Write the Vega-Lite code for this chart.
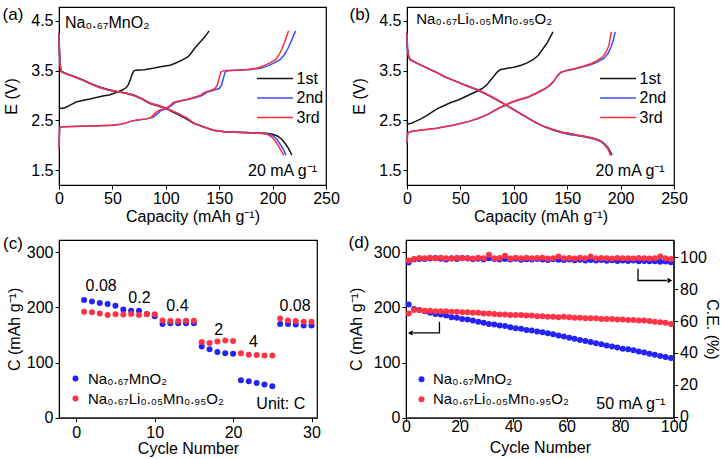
{
"$schema": "https://vega.github.io/schema/vega-lite/v6.json",
"padding": {"left": 1, "top": 5, "right": 0, "bottom": 0},
"config": {
 "font": "Liberation Sans",
 "view": {"stroke": "#000", "strokeWidth": 1.2},
 "axis": {"grid": false, "domainColor": "#000", "tickColor": "#000", "tickSize": 4, "labelColor": "#000", "titleColor": "#000", "labelFontSize": 16, "titleFontSize": 16, "titleFontWeight": "normal", "labelFont": "Liberation Sans", "titleFont": "Liberation Sans", "labelFlush": false, "labelOverlap": false},
 "legend": {"labelFontSize": 16, "labelFont": "Liberation Sans", "labelColor": "#000", "orient": "none", "padding": 0},
 "text": {"font": "Liberation Sans", "fontSize": 16, "color": "#000"}
},
"datasets": {
 "A": [
  {"x":0,"y":2.75,"k":"1st","b":"c"},{"x":3,"y":2.74,"k":"1st","b":"c"},{"x":6,"y":2.76,"k":"1st","b":"c"},{"x":10,"y":2.8,"k":"1st","b":"c"},{"x":16,"y":2.87,"k":"1st","b":"c"},{"x":22,"y":2.9,"k":"1st","b":"c"},{"x":29,"y":2.93,"k":"1st","b":"c"},{"x":35,"y":2.96,"k":"1st","b":"c"},{"x":41,"y":2.99,"k":"1st","b":"c"},{"x":47,"y":3.01,"k":"1st","b":"c"},{"x":51,"y":3.04,"k":"1st","b":"c"},{"x":56,"y":3.08,"k":"1st","b":"c"},{"x":60,"y":3.12,"k":"1st","b":"c"},{"x":63,"y":3.16,"k":"1st","b":"c"},{"x":65,"y":3.22,"k":"1st","b":"c"},{"x":67,"y":3.33,"k":"1st","b":"c"},{"x":68.5,"y":3.43,"k":"1st","b":"c"},{"x":70,"y":3.49,"k":"1st","b":"c"},{"x":72,"y":3.51,"k":"1st","b":"c"},{"x":80,"y":3.52,"k":"1st","b":"c"},{"x":88,"y":3.55,"k":"1st","b":"c"},{"x":95,"y":3.58,"k":"1st","b":"c"},{"x":104,"y":3.61,"k":"1st","b":"c"},{"x":110,"y":3.66,"k":"1st","b":"c"},{"x":116,"y":3.72,"k":"1st","b":"c"},{"x":121,"y":3.78,"k":"1st","b":"c"},{"x":124,"y":3.86,"k":"1st","b":"c"},{"x":127,"y":3.95,"k":"1st","b":"c"},{"x":132,"y":4.07,"k":"1st","b":"c"},{"x":137,"y":4.19,"k":"1st","b":"c"},{"x":140.5,"y":4.3,"k":"1st","b":"c"},
  {"x":0,"y":4.25,"k":"1st","b":"d"},{"x":0.4,"y":3.9,"k":"1st","b":"d"},{"x":1,"y":3.62,"k":"1st","b":"d"},{"x":2,"y":3.49,"k":"1st","b":"d"},{"x":7,"y":3.44,"k":"1st","b":"d"},{"x":15,"y":3.38,"k":"1st","b":"d"},{"x":23,"y":3.31,"k":"1st","b":"d"},{"x":30,"y":3.24,"k":"1st","b":"d"},{"x":38,"y":3.17,"k":"1st","b":"d"},{"x":46,"y":3.12,"k":"1st","b":"d"},{"x":54,"y":3.08,"k":"1st","b":"d"},{"x":62,"y":3.05,"k":"1st","b":"d"},{"x":70,"y":3.01,"k":"1st","b":"d"},{"x":78,"y":2.93,"k":"1st","b":"d"},{"x":85,"y":2.84,"k":"1st","b":"d"},{"x":93,"y":2.79,"k":"1st","b":"d"},{"x":101,"y":2.73,"k":"1st","b":"d"},{"x":107,"y":2.66,"k":"1st","b":"d"},{"x":113,"y":2.6,"k":"1st","b":"d"},{"x":120,"y":2.52,"k":"1st","b":"d"},{"x":126,"y":2.44,"k":"1st","b":"d"},{"x":135,"y":2.37,"k":"1st","b":"d"},{"x":144.5,"y":2.3,"k":"1st","b":"d"},{"x":155,"y":2.27,"k":"1st","b":"d"},{"x":165,"y":2.26,"k":"1st","b":"d"},{"x":180,"y":2.25,"k":"1st","b":"d"},{"x":194.5,"y":2.24,"k":"1st","b":"d"},{"x":200,"y":2.22,"k":"1st","b":"d"},{"x":205,"y":2.18,"k":"1st","b":"d"},{"x":209,"y":2.11,"k":"1st","b":"d"},{"x":212,"y":2.03,"k":"1st","b":"d"},{"x":215,"y":1.93,"k":"1st","b":"d"},{"x":218,"y":1.8,"k":"1st","b":"d"},
  {"x":0,"y":4.25,"k":"2nd","b":"d"},{"x":0.4,"y":3.9,"k":"2nd","b":"d"},{"x":1,"y":3.62,"k":"2nd","b":"d"},{"x":2,"y":3.48,"k":"2nd","b":"d"},{"x":7,"y":3.43,"k":"2nd","b":"d"},{"x":15,"y":3.37,"k":"2nd","b":"d"},{"x":23,"y":3.3,"k":"2nd","b":"d"},{"x":30,"y":3.23,"k":"2nd","b":"d"},{"x":38,"y":3.16,"k":"2nd","b":"d"},{"x":46,"y":3.11,"k":"2nd","b":"d"},{"x":54,"y":3.08,"k":"2nd","b":"d"},{"x":62,"y":3.05,"k":"2nd","b":"d"},{"x":70,"y":3.0,"k":"2nd","b":"d"},{"x":78,"y":2.93,"k":"2nd","b":"d"},{"x":85,"y":2.85,"k":"2nd","b":"d"},{"x":93,"y":2.8,"k":"2nd","b":"d"},{"x":101,"y":2.74,"k":"2nd","b":"d"},{"x":107,"y":2.68,"k":"2nd","b":"d"},{"x":113,"y":2.62,"k":"2nd","b":"d"},{"x":120,"y":2.54,"k":"2nd","b":"d"},{"x":126,"y":2.45,"k":"2nd","b":"d"},{"x":135,"y":2.37,"k":"2nd","b":"d"},{"x":144.5,"y":2.3,"k":"2nd","b":"d"},{"x":155,"y":2.27,"k":"2nd","b":"d"},{"x":165,"y":2.26,"k":"2nd","b":"d"},{"x":180,"y":2.25,"k":"2nd","b":"d"},{"x":190,"y":2.24,"k":"2nd","b":"d"},{"x":197,"y":2.22,"k":"2nd","b":"d"},{"x":201,"y":2.18,"k":"2nd","b":"d"},{"x":204,"y":2.12,"k":"2nd","b":"d"},{"x":207,"y":2.02,"k":"2nd","b":"d"},{"x":210,"y":1.92,"k":"2nd","b":"d"},{"x":212.5,"y":1.8,"k":"2nd","b":"d"},
  {"x":0,"y":4.25,"k":"3rd","b":"d"},{"x":0.4,"y":3.9,"k":"3rd","b":"d"},{"x":1,"y":3.62,"k":"3rd","b":"d"},{"x":2,"y":3.48,"k":"3rd","b":"d"},{"x":7,"y":3.43,"k":"3rd","b":"d"},{"x":15,"y":3.37,"k":"3rd","b":"d"},{"x":23,"y":3.3,"k":"3rd","b":"d"},{"x":30,"y":3.23,"k":"3rd","b":"d"},{"x":38,"y":3.16,"k":"3rd","b":"d"},{"x":46,"y":3.11,"k":"3rd","b":"d"},{"x":54,"y":3.08,"k":"3rd","b":"d"},{"x":62,"y":3.05,"k":"3rd","b":"d"},{"x":70,"y":3.0,"k":"3rd","b":"d"},{"x":78,"y":2.93,"k":"3rd","b":"d"},{"x":85,"y":2.85,"k":"3rd","b":"d"},{"x":93,"y":2.8,"k":"3rd","b":"d"},{"x":101,"y":2.74,"k":"3rd","b":"d"},{"x":107,"y":2.68,"k":"3rd","b":"d"},{"x":113,"y":2.62,"k":"3rd","b":"d"},{"x":120,"y":2.54,"k":"3rd","b":"d"},{"x":126,"y":2.45,"k":"3rd","b":"d"},{"x":135,"y":2.37,"k":"3rd","b":"d"},{"x":144.5,"y":2.3,"k":"3rd","b":"d"},{"x":155,"y":2.27,"k":"3rd","b":"d"},{"x":165,"y":2.26,"k":"3rd","b":"d"},{"x":180,"y":2.25,"k":"3rd","b":"d"},{"x":188,"y":2.24,"k":"3rd","b":"d"},{"x":195,"y":2.22,"k":"3rd","b":"d"},{"x":199,"y":2.17,"k":"3rd","b":"d"},{"x":202,"y":2.1,"k":"3rd","b":"d"},{"x":205.5,"y":1.98,"k":"3rd","b":"d"},{"x":208,"y":1.89,"k":"3rd","b":"d"},{"x":210.5,"y":1.8,"k":"3rd","b":"d"},
  {"x":0,"y":1.95,"k":"2nd","b":"c"},{"x":0.5,"y":2.3,"k":"2nd","b":"c"},{"x":1,"y":2.36,"k":"2nd","b":"c"},{"x":5,"y":2.37,"k":"2nd","b":"c"},{"x":20,"y":2.38,"k":"2nd","b":"c"},{"x":38,"y":2.39,"k":"2nd","b":"c"},{"x":50,"y":2.4,"k":"2nd","b":"c"},{"x":58,"y":2.42,"k":"2nd","b":"c"},{"x":63,"y":2.45,"k":"2nd","b":"c"},{"x":67,"y":2.48,"k":"2nd","b":"c"},{"x":72,"y":2.5,"k":"2nd","b":"c"},{"x":82,"y":2.53,"k":"2nd","b":"c"},{"x":88,"y":2.56,"k":"2nd","b":"c"},{"x":92,"y":2.63,"k":"2nd","b":"c"},{"x":95,"y":2.69,"k":"2nd","b":"c"},{"x":99,"y":2.72,"k":"2nd","b":"c"},{"x":103,"y":2.76,"k":"2nd","b":"c"},{"x":106,"y":2.81,"k":"2nd","b":"c"},{"x":109,"y":2.86,"k":"2nd","b":"c"},{"x":114,"y":2.89,"k":"2nd","b":"c"},{"x":121,"y":2.92,"k":"2nd","b":"c"},{"x":128,"y":2.96,"k":"2nd","b":"c"},{"x":134,"y":3.0,"k":"2nd","b":"c"},{"x":138,"y":3.06,"k":"2nd","b":"c"},{"x":144,"y":3.1,"k":"2nd","b":"c"},{"x":150,"y":3.14,"k":"2nd","b":"c"},{"x":152,"y":3.2,"k":"2nd","b":"c"},{"x":154,"y":3.35,"k":"2nd","b":"c"},{"x":155.5,"y":3.47,"k":"2nd","b":"c"},{"x":158,"y":3.5,"k":"2nd","b":"c"},{"x":166,"y":3.51,"k":"2nd","b":"c"},{"x":178,"y":3.52,"k":"2nd","b":"c"},{"x":189,"y":3.55,"k":"2nd","b":"c"},{"x":196,"y":3.6,"k":"2nd","b":"c"},{"x":202,"y":3.66,"k":"2nd","b":"c"},{"x":207,"y":3.72,"k":"2nd","b":"c"},{"x":211,"y":3.82,"k":"2nd","b":"c"},{"x":214.5,"y":3.95,"k":"2nd","b":"c"},{"x":218,"y":4.12,"k":"2nd","b":"c"},{"x":221.5,"y":4.3,"k":"2nd","b":"c"},
  {"x":0,"y":1.95,"k":"3rd","b":"c"},{"x":0.5,"y":2.3,"k":"3rd","b":"c"},{"x":1,"y":2.36,"k":"3rd","b":"c"},{"x":5,"y":2.37,"k":"3rd","b":"c"},{"x":20,"y":2.38,"k":"3rd","b":"c"},{"x":38,"y":2.39,"k":"3rd","b":"c"},{"x":50,"y":2.4,"k":"3rd","b":"c"},{"x":58,"y":2.42,"k":"3rd","b":"c"},{"x":63,"y":2.45,"k":"3rd","b":"c"},{"x":67,"y":2.48,"k":"3rd","b":"c"},{"x":72,"y":2.5,"k":"3rd","b":"c"},{"x":82,"y":2.53,"k":"3rd","b":"c"},{"x":86,"y":2.56,"k":"3rd","b":"c"},{"x":89,"y":2.62,"k":"3rd","b":"c"},{"x":92,"y":2.68,"k":"3rd","b":"c"},{"x":96,"y":2.72,"k":"3rd","b":"c"},{"x":101,"y":2.75,"k":"3rd","b":"c"},{"x":104,"y":2.8,"k":"3rd","b":"c"},{"x":107,"y":2.86,"k":"3rd","b":"c"},{"x":112,"y":2.89,"k":"3rd","b":"c"},{"x":119.5,"y":2.92,"k":"3rd","b":"c"},{"x":126,"y":2.96,"k":"3rd","b":"c"},{"x":132,"y":3.0,"k":"3rd","b":"c"},{"x":136,"y":3.06,"k":"3rd","b":"c"},{"x":142,"y":3.1,"k":"3rd","b":"c"},{"x":146,"y":3.14,"k":"3rd","b":"c"},{"x":148,"y":3.2,"k":"3rd","b":"c"},{"x":150,"y":3.35,"k":"3rd","b":"c"},{"x":151.5,"y":3.47,"k":"3rd","b":"c"},{"x":154,"y":3.5,"k":"3rd","b":"c"},{"x":163,"y":3.51,"k":"3rd","b":"c"},{"x":175,"y":3.52,"k":"3rd","b":"c"},{"x":185,"y":3.55,"k":"3rd","b":"c"},{"x":192,"y":3.6,"k":"3rd","b":"c"},{"x":198,"y":3.66,"k":"3rd","b":"c"},{"x":203,"y":3.72,"k":"3rd","b":"c"},{"x":206,"y":3.82,"k":"3rd","b":"c"},{"x":209,"y":3.95,"k":"3rd","b":"c"},{"x":212,"y":4.12,"k":"3rd","b":"c"},{"x":215,"y":4.3,"k":"3rd","b":"c"}
 ],
 "B": [
  {"x":0,"y":2.42,"k":"1st","b":"c"},{"x":4,"y":2.44,"k":"1st","b":"c"},{"x":8,"y":2.48,"k":"1st","b":"c"},{"x":13,"y":2.53,"k":"1st","b":"c"},{"x":18,"y":2.59,"k":"1st","b":"c"},{"x":23,"y":2.66,"k":"1st","b":"c"},{"x":29,"y":2.74,"k":"1st","b":"c"},{"x":35,"y":2.8,"k":"1st","b":"c"},{"x":41,"y":2.86,"k":"1st","b":"c"},{"x":48,"y":2.91,"k":"1st","b":"c"},{"x":54,"y":2.97,"k":"1st","b":"c"},{"x":60,"y":3.03,"k":"1st","b":"c"},{"x":66,"y":3.09,"k":"1st","b":"c"},{"x":71,"y":3.15,"k":"1st","b":"c"},{"x":75,"y":3.22,"k":"1st","b":"c"},{"x":78,"y":3.3,"k":"1st","b":"c"},{"x":81,"y":3.38,"k":"1st","b":"c"},{"x":84,"y":3.46,"k":"1st","b":"c"},{"x":87,"y":3.52,"k":"1st","b":"c"},{"x":92,"y":3.54,"k":"1st","b":"c"},{"x":100,"y":3.57,"k":"1st","b":"c"},{"x":107,"y":3.61,"k":"1st","b":"c"},{"x":113,"y":3.66,"k":"1st","b":"c"},{"x":118,"y":3.72,"k":"1st","b":"c"},{"x":123,"y":3.81,"k":"1st","b":"c"},{"x":127,"y":3.93,"k":"1st","b":"c"},{"x":131,"y":4.05,"k":"1st","b":"c"},{"x":134,"y":4.17,"k":"1st","b":"c"},{"x":136.7,"y":4.28,"k":"1st","b":"c"},
  {"x":0,"y":4.25,"k":"1st","b":"d"},{"x":0.4,"y":3.95,"k":"1st","b":"d"},{"x":1.5,"y":3.78,"k":"1st","b":"d"},{"x":3,"y":3.72,"k":"1st","b":"d"},{"x":10,"y":3.64,"k":"1st","b":"d"},{"x":17,"y":3.57,"k":"1st","b":"d"},{"x":23,"y":3.51,"k":"1st","b":"d"},{"x":29,"y":3.45,"k":"1st","b":"d"},{"x":35,"y":3.38,"k":"1st","b":"d"},{"x":43,"y":3.31,"k":"1st","b":"d"},{"x":51,"y":3.24,"k":"1st","b":"d"},{"x":59,"y":3.17,"k":"1st","b":"d"},{"x":66.5,"y":3.11,"k":"1st","b":"d"},{"x":74,"y":3.03,"k":"1st","b":"d"},{"x":82,"y":2.94,"k":"1st","b":"d"},{"x":90,"y":2.84,"k":"1st","b":"d"},{"x":98,"y":2.74,"k":"1st","b":"d"},{"x":105,"y":2.65,"k":"1st","b":"d"},{"x":113,"y":2.55,"k":"1st","b":"d"},{"x":121,"y":2.45,"k":"1st","b":"d"},{"x":129,"y":2.37,"k":"1st","b":"d"},{"x":137,"y":2.31,"k":"1st","b":"d"},{"x":145,"y":2.26,"k":"1st","b":"d"},{"x":153,"y":2.23,"k":"1st","b":"d"},{"x":160,"y":2.2,"k":"1st","b":"d"},{"x":168,"y":2.17,"k":"1st","b":"d"},{"x":176,"y":2.13,"k":"1st","b":"d"},{"x":181,"y":2.09,"k":"1st","b":"d"},{"x":185,"y":2.03,"k":"1st","b":"d"},{"x":188,"y":1.96,"k":"1st","b":"d"},{"x":190,"y":1.88,"k":"1st","b":"d"},{"x":192,"y":1.8,"k":"1st","b":"d"},
  {"x":0,"y":4.25,"k":"2nd","b":"d"},{"x":0.4,"y":3.95,"k":"2nd","b":"d"},{"x":1.5,"y":3.78,"k":"2nd","b":"d"},{"x":3,"y":3.72,"k":"2nd","b":"d"},{"x":10,"y":3.64,"k":"2nd","b":"d"},{"x":17,"y":3.57,"k":"2nd","b":"d"},{"x":23,"y":3.51,"k":"2nd","b":"d"},{"x":29,"y":3.45,"k":"2nd","b":"d"},{"x":35,"y":3.38,"k":"2nd","b":"d"},{"x":43,"y":3.31,"k":"2nd","b":"d"},{"x":51,"y":3.24,"k":"2nd","b":"d"},{"x":59,"y":3.17,"k":"2nd","b":"d"},{"x":66.5,"y":3.11,"k":"2nd","b":"d"},{"x":74,"y":3.03,"k":"2nd","b":"d"},{"x":82,"y":2.94,"k":"2nd","b":"d"},{"x":90,"y":2.84,"k":"2nd","b":"d"},{"x":98,"y":2.74,"k":"2nd","b":"d"},{"x":105,"y":2.65,"k":"2nd","b":"d"},{"x":113,"y":2.55,"k":"2nd","b":"d"},{"x":121,"y":2.45,"k":"2nd","b":"d"},{"x":129,"y":2.37,"k":"2nd","b":"d"},{"x":137,"y":2.3,"k":"2nd","b":"d"},{"x":145,"y":2.25,"k":"2nd","b":"d"},{"x":153,"y":2.21,"k":"2nd","b":"d"},{"x":160,"y":2.19,"k":"2nd","b":"d"},{"x":168,"y":2.16,"k":"2nd","b":"d"},{"x":176,"y":2.12,"k":"2nd","b":"d"},{"x":181,"y":2.08,"k":"2nd","b":"d"},{"x":185,"y":2.01,"k":"2nd","b":"d"},{"x":188,"y":1.93,"k":"2nd","b":"d"},{"x":190,"y":1.85,"k":"2nd","b":"d"},{"x":191,"y":1.8,"k":"2nd","b":"d"},
  {"x":0,"y":4.25,"k":"3rd","b":"d"},{"x":0.4,"y":3.95,"k":"3rd","b":"d"},{"x":1.5,"y":3.78,"k":"3rd","b":"d"},{"x":3,"y":3.72,"k":"3rd","b":"d"},{"x":10,"y":3.64,"k":"3rd","b":"d"},{"x":17,"y":3.57,"k":"3rd","b":"d"},{"x":23,"y":3.51,"k":"3rd","b":"d"},{"x":29,"y":3.45,"k":"3rd","b":"d"},{"x":35,"y":3.38,"k":"3rd","b":"d"},{"x":43,"y":3.31,"k":"3rd","b":"d"},{"x":51,"y":3.24,"k":"3rd","b":"d"},{"x":59,"y":3.17,"k":"3rd","b":"d"},{"x":66.5,"y":3.11,"k":"3rd","b":"d"},{"x":74,"y":3.03,"k":"3rd","b":"d"},{"x":82,"y":2.94,"k":"3rd","b":"d"},{"x":90,"y":2.84,"k":"3rd","b":"d"},{"x":98,"y":2.74,"k":"3rd","b":"d"},{"x":105,"y":2.65,"k":"3rd","b":"d"},{"x":113,"y":2.55,"k":"3rd","b":"d"},{"x":121,"y":2.45,"k":"3rd","b":"d"},{"x":129,"y":2.37,"k":"3rd","b":"d"},{"x":137,"y":2.31,"k":"3rd","b":"d"},{"x":145,"y":2.26,"k":"3rd","b":"d"},{"x":153,"y":2.23,"k":"3rd","b":"d"},{"x":160,"y":2.2,"k":"3rd","b":"d"},{"x":168,"y":2.17,"k":"3rd","b":"d"},{"x":176,"y":2.13,"k":"3rd","b":"d"},{"x":181,"y":2.09,"k":"3rd","b":"d"},{"x":185,"y":2.02,"k":"3rd","b":"d"},{"x":188,"y":1.95,"k":"3rd","b":"d"},{"x":189.5,"y":1.87,"k":"3rd","b":"d"},{"x":190.5,"y":1.8,"k":"3rd","b":"d"},
  {"x":0,"y":2.05,"k":"2nd","b":"c"},{"x":0.5,"y":2.22,"k":"2nd","b":"c"},{"x":1.5,"y":2.26,"k":"2nd","b":"c"},{"x":5,"y":2.28,"k":"2nd","b":"c"},{"x":12,"y":2.3,"k":"2nd","b":"c"},{"x":20,"y":2.32,"k":"2nd","b":"c"},{"x":28,"y":2.34,"k":"2nd","b":"c"},{"x":35,"y":2.37,"k":"2nd","b":"c"},{"x":43,"y":2.4,"k":"2nd","b":"c"},{"x":51,"y":2.44,"k":"2nd","b":"c"},{"x":58,"y":2.48,"k":"2nd","b":"c"},{"x":66,"y":2.53,"k":"2nd","b":"c"},{"x":72,"y":2.58,"k":"2nd","b":"c"},{"x":76,"y":2.62,"k":"2nd","b":"c"},{"x":81,"y":2.68,"k":"2nd","b":"c"},{"x":86,"y":2.74,"k":"2nd","b":"c"},{"x":92,"y":2.8,"k":"2nd","b":"c"},{"x":98,"y":2.86,"k":"2nd","b":"c"},{"x":105,"y":2.91,"k":"2nd","b":"c"},{"x":113,"y":2.96,"k":"2nd","b":"c"},{"x":121,"y":3.04,"k":"2nd","b":"c"},{"x":129,"y":3.13,"k":"2nd","b":"c"},{"x":133,"y":3.19,"k":"2nd","b":"c"},{"x":137,"y":3.27,"k":"2nd","b":"c"},{"x":141,"y":3.4,"k":"2nd","b":"c"},{"x":144,"y":3.46,"k":"2nd","b":"c"},{"x":148,"y":3.49,"k":"2nd","b":"c"},{"x":152,"y":3.51,"k":"2nd","b":"c"},{"x":158,"y":3.54,"k":"2nd","b":"c"},{"x":165,"y":3.58,"k":"2nd","b":"c"},{"x":172,"y":3.62,"k":"2nd","b":"c"},{"x":178,"y":3.67,"k":"2nd","b":"c"},{"x":184,"y":3.74,"k":"2nd","b":"c"},{"x":188,"y":3.84,"k":"2nd","b":"c"},{"x":191,"y":3.97,"k":"2nd","b":"c"},{"x":193,"y":4.1,"k":"2nd","b":"c"},{"x":195,"y":4.28,"k":"2nd","b":"c"},
  {"x":0,"y":2.05,"k":"3rd","b":"c"},{"x":0.5,"y":2.22,"k":"3rd","b":"c"},{"x":1.5,"y":2.26,"k":"3rd","b":"c"},{"x":5,"y":2.28,"k":"3rd","b":"c"},{"x":12,"y":2.3,"k":"3rd","b":"c"},{"x":20,"y":2.32,"k":"3rd","b":"c"},{"x":28,"y":2.34,"k":"3rd","b":"c"},{"x":35,"y":2.37,"k":"3rd","b":"c"},{"x":43,"y":2.4,"k":"3rd","b":"c"},{"x":51,"y":2.44,"k":"3rd","b":"c"},{"x":58,"y":2.48,"k":"3rd","b":"c"},{"x":66,"y":2.54,"k":"3rd","b":"c"},{"x":72,"y":2.59,"k":"3rd","b":"c"},{"x":76,"y":2.63,"k":"3rd","b":"c"},{"x":81,"y":2.69,"k":"3rd","b":"c"},{"x":86,"y":2.75,"k":"3rd","b":"c"},{"x":92,"y":2.81,"k":"3rd","b":"c"},{"x":98,"y":2.87,"k":"3rd","b":"c"},{"x":105,"y":2.92,"k":"3rd","b":"c"},{"x":113,"y":2.97,"k":"3rd","b":"c"},{"x":121,"y":3.05,"k":"3rd","b":"c"},{"x":129,"y":3.14,"k":"3rd","b":"c"},{"x":133,"y":3.2,"k":"3rd","b":"c"},{"x":137,"y":3.28,"k":"3rd","b":"c"},{"x":141,"y":3.41,"k":"3rd","b":"c"},{"x":144,"y":3.47,"k":"3rd","b":"c"},{"x":148,"y":3.5,"k":"3rd","b":"c"},{"x":152,"y":3.52,"k":"3rd","b":"c"},{"x":158,"y":3.55,"k":"3rd","b":"c"},{"x":165,"y":3.59,"k":"3rd","b":"c"},{"x":172,"y":3.64,"k":"3rd","b":"c"},{"x":178,"y":3.7,"k":"3rd","b":"c"},{"x":183,"y":3.77,"k":"3rd","b":"c"},{"x":186,"y":3.86,"k":"3rd","b":"c"},{"x":189,"y":4.0,"k":"3rd","b":"c"},{"x":191.3,"y":4.28,"k":"3rd","b":"c"}
 ],
 "C": [
  {"n":1,"c":213.5,"s":"Na₀.₆₇MnO₂"},{"n":2,"c":210.5,"s":"Na₀.₆₇MnO₂"},{"n":3,"c":208,"s":"Na₀.₆₇MnO₂"},{"n":4,"c":206,"s":"Na₀.₆₇MnO₂"},{"n":5,"c":203,"s":"Na₀.₆₇MnO₂"},{"n":6,"c":196,"s":"Na₀.₆₇MnO₂"},{"n":7,"c":194,"s":"Na₀.₆₇MnO₂"},{"n":8,"c":194,"s":"Na₀.₆₇MnO₂"},{"n":9,"c":188,"s":"Na₀.₆₇MnO₂"},{"n":10,"c":184,"s":"Na₀.₆₇MnO₂"},{"n":11,"c":170,"s":"Na₀.₆₇MnO₂"},{"n":12,"c":171,"s":"Na₀.₆₇MnO₂"},{"n":13,"c":171,"s":"Na₀.₆₇MnO₂"},{"n":14,"c":171,"s":"Na₀.₆₇MnO₂"},{"n":15,"c":171,"s":"Na₀.₆₇MnO₂"},{"n":16,"c":129,"s":"Na₀.₆₇MnO₂"},{"n":17,"c":124,"s":"Na₀.₆₇MnO₂"},{"n":18,"c":119,"s":"Na₀.₆₇MnO₂"},{"n":19,"c":117,"s":"Na₀.₆₇MnO₂"},{"n":20,"c":116,"s":"Na₀.₆₇MnO₂"},{"n":21,"c":68,"s":"Na₀.₆₇MnO₂"},{"n":22,"c":66,"s":"Na₀.₆₇MnO₂"},{"n":23,"c":63,"s":"Na₀.₆₇MnO₂"},{"n":24,"c":60,"s":"Na₀.₆₇MnO₂"},{"n":25,"c":57,"s":"Na₀.₆₇MnO₂"},{"n":26,"c":170,"s":"Na₀.₆₇MnO₂"},{"n":27,"c":170,"s":"Na₀.₆₇MnO₂"},{"n":28,"c":169,"s":"Na₀.₆₇MnO₂"},{"n":29,"c":167,"s":"Na₀.₆₇MnO₂"},{"n":30,"c":167,"s":"Na₀.₆₇MnO₂"},
  {"n":1,"c":192,"s":"Na₀.₆₇Li₀.₀₅Mn₀.₉₅O₂"},{"n":2,"c":191,"s":"Na₀.₆₇Li₀.₀₅Mn₀.₉₅O₂"},{"n":3,"c":189,"s":"Na₀.₆₇Li₀.₀₅Mn₀.₉₅O₂"},{"n":4,"c":186,"s":"Na₀.₆₇Li₀.₀₅Mn₀.₉₅O₂"},{"n":5,"c":187.5,"s":"Na₀.₆₇Li₀.₀₅Mn₀.₉₅O₂"},{"n":6,"c":187,"s":"Na₀.₆₇Li₀.₀₅Mn₀.₉₅O₂"},{"n":7,"c":188,"s":"Na₀.₆₇Li₀.₀₅Mn₀.₉₅O₂"},{"n":8,"c":186,"s":"Na₀.₆₇Li₀.₀₅Mn₀.₉₅O₂"},{"n":9,"c":187.5,"s":"Na₀.₆₇Li₀.₀₅Mn₀.₉₅O₂"},{"n":10,"c":187.5,"s":"Na₀.₆₇Li₀.₀₅Mn₀.₉₅O₂"},{"n":11,"c":176,"s":"Na₀.₆₇Li₀.₀₅Mn₀.₉₅O₂"},{"n":12,"c":175,"s":"Na₀.₆₇Li₀.₀₅Mn₀.₉₅O₂"},{"n":13,"c":175,"s":"Na₀.₆₇Li₀.₀₅Mn₀.₉₅O₂"},{"n":14,"c":175.5,"s":"Na₀.₆₇Li₀.₀₅Mn₀.₉₅O₂"},{"n":15,"c":175.5,"s":"Na₀.₆₇Li₀.₀₅Mn₀.₉₅O₂"},{"n":16,"c":137,"s":"Na₀.₆₇Li₀.₀₅Mn₀.₉₅O₂"},{"n":17,"c":135.5,"s":"Na₀.₆₇Li₀.₀₅Mn₀.₉₅O₂"},{"n":18,"c":138,"s":"Na₀.₆₇Li₀.₀₅Mn₀.₉₅O₂"},{"n":19,"c":139.7,"s":"Na₀.₆₇Li₀.₀₅Mn₀.₉₅O₂"},{"n":20,"c":139,"s":"Na₀.₆₇Li₀.₀₅Mn₀.₉₅O₂"},{"n":21,"c":117,"s":"Na₀.₆₇Li₀.₀₅Mn₀.₉₅O₂"},{"n":22,"c":114,"s":"Na₀.₆₇Li₀.₀₅Mn₀.₉₅O₂"},{"n":23,"c":113.7,"s":"Na₀.₆₇Li₀.₀₅Mn₀.₉₅O₂"},{"n":24,"c":112.5,"s":"Na₀.₆₇Li₀.₀₅Mn₀.₉₅O₂"},{"n":25,"c":112.5,"s":"Na₀.₆₇Li₀.₀₅Mn₀.₉₅O₂"},{"n":26,"c":179.6,"s":"Na₀.₆₇Li₀.₀₅Mn₀.₉₅O₂"},{"n":27,"c":176,"s":"Na₀.₆₇Li₀.₀₅Mn₀.₉₅O₂"},{"n":28,"c":175,"s":"Na₀.₆₇Li₀.₀₅Mn₀.₉₅O₂"},{"n":29,"c":174,"s":"Na₀.₆₇Li₀.₀₅Mn₀.₉₅O₂"},{"n":30,"c":174,"s":"Na₀.₆₇Li₀.₀₅Mn₀.₉₅O₂"}
 ],
 "D": [
  {"n":1,"c":205,"ce":96.8,"s":"Na₀.₆₇MnO₂"},{"n":3,"c":197,"ce":98.6,"s":"Na₀.₆₇MnO₂"},{"n":5,"c":195,"ce":98.9,"s":"Na₀.₆₇MnO₂"},{"n":7,"c":193,"ce":99.0,"s":"Na₀.₆₇MnO₂"},{"n":9,"c":190,"ce":99.3,"s":"Na₀.₆₇MnO₂"},{"n":11,"c":188,"ce":99.6,"s":"Na₀.₆₇MnO₂"},{"n":13,"c":187,"ce":99.2,"s":"Na₀.₆₇MnO₂"},{"n":15,"c":185,"ce":98.6,"s":"Na₀.₆₇MnO₂"},{"n":17,"c":182,"ce":99.5,"s":"Na₀.₆₇MnO₂"},{"n":19,"c":181,"ce":98.9,"s":"Na₀.₆₇MnO₂"},{"n":21,"c":179,"ce":99.6,"s":"Na₀.₆₇MnO₂"},{"n":23,"c":178,"ce":99.3,"s":"Na₀.₆₇MnO₂"},{"n":25,"c":176,"ce":98.8,"s":"Na₀.₆₇MnO₂"},{"n":27,"c":174,"ce":99.1,"s":"Na₀.₆₇MnO₂"},{"n":29,"c":172,"ce":98.7,"s":"Na₀.₆₇MnO₂"},{"n":31,"c":170,"ce":99.5,"s":"Na₀.₆₇MnO₂"},{"n":33,"c":169,"ce":98.9,"s":"Na₀.₆₇MnO₂"},{"n":35,"c":167,"ce":98.6,"s":"Na₀.₆₇MnO₂"},{"n":37,"c":166,"ce":99.0,"s":"Na₀.₆₇MnO₂"},{"n":39,"c":164,"ce":98.7,"s":"Na₀.₆₇MnO₂"},{"n":41,"c":162,"ce":99.2,"s":"Na₀.₆₇MnO₂"},{"n":43,"c":161,"ce":98.5,"s":"Na₀.₆₇MnO₂"},{"n":45,"c":159,"ce":98.8,"s":"Na₀.₆₇MnO₂"},{"n":47,"c":158,"ce":98.6,"s":"Na₀.₆₇MnO₂"},{"n":49,"c":156,"ce":98.9,"s":"Na₀.₆₇MnO₂"},{"n":51,"c":155,"ce":98.7,"s":"Na₀.₆₇MnO₂"},{"n":53,"c":153,"ce":98.4,"s":"Na₀.₆₇MnO₂"},{"n":55,"c":151,"ce":98.8,"s":"Na₀.₆₇MnO₂"},{"n":57,"c":149,"ce":98.5,"s":"Na₀.₆₇MnO₂"},{"n":59,"c":147,"ce":98.3,"s":"Na₀.₆₇MnO₂"},{"n":61,"c":145,"ce":98.6,"s":"Na₀.₆₇MnO₂"},{"n":63,"c":143,"ce":98.2,"s":"Na₀.₆₇MnO₂"},{"n":65,"c":141,"ce":98.5,"s":"Na₀.₆₇MnO₂"},{"n":67,"c":139,"ce":98.1,"s":"Na₀.₆₇MnO₂"},{"n":69,"c":137,"ce":98.4,"s":"Na₀.₆₇MnO₂"},{"n":71,"c":135,"ce":98.0,"s":"Na₀.₆₇MnO₂"},{"n":73,"c":133,"ce":98.3,"s":"Na₀.₆₇MnO₂"},{"n":75,"c":131,"ce":97.9,"s":"Na₀.₆₇MnO₂"},{"n":77,"c":129,"ce":98.2,"s":"Na₀.₆₇MnO₂"},{"n":79,"c":127,"ce":97.8,"s":"Na₀.₆₇MnO₂"},{"n":81,"c":125,"ce":98.1,"s":"Na₀.₆₇MnO₂"},{"n":83,"c":124,"ce":97.7,"s":"Na₀.₆₇MnO₂"},{"n":85,"c":122,"ce":98.0,"s":"Na₀.₆₇MnO₂"},{"n":87,"c":120,"ce":97.6,"s":"Na₀.₆₇MnO₂"},{"n":89,"c":118,"ce":97.8,"s":"Na₀.₆₇MnO₂"},{"n":91,"c":116,"ce":97.5,"s":"Na₀.₆₇MnO₂"},{"n":93,"c":114,"ce":97.6,"s":"Na₀.₆₇MnO₂"},{"n":95,"c":112,"ce":97.3,"s":"Na₀.₆₇MnO₂"},{"n":97,"c":110,"ce":97.4,"s":"Na₀.₆₇MnO₂"},{"n":99,"c":108,"ce":97.0,"s":"Na₀.₆₇MnO₂"},
  {"n":1,"c":189,"ce":98.0,"s":"Na₀.₆₇Li₀.₀₅Mn₀.₉₅O₂"},{"n":3,"c":195,"ce":99.0,"s":"Na₀.₆₇Li₀.₀₅Mn₀.₉₅O₂"},{"n":5,"c":195,"ce":99.6,"s":"Na₀.₆₇Li₀.₀₅Mn₀.₉₅O₂"},{"n":7,"c":194,"ce":99.4,"s":"Na₀.₆₇Li₀.₀₅Mn₀.₉₅O₂"},{"n":9,"c":194,"ce":99.8,"s":"Na₀.₆₇Li₀.₀₅Mn₀.₉₅O₂"},{"n":11,"c":193,"ce":99.3,"s":"Na₀.₆₇Li₀.₀₅Mn₀.₉₅O₂"},{"n":13,"c":193,"ce":99.7,"s":"Na₀.₆₇Li₀.₀₅Mn₀.₉₅O₂"},{"n":15,"c":193,"ce":99.5,"s":"Na₀.₆₇Li₀.₀₅Mn₀.₉₅O₂"},{"n":17,"c":192,"ce":99.2,"s":"Na₀.₆₇Li₀.₀₅Mn₀.₉₅O₂"},{"n":19,"c":192,"ce":99.8,"s":"Na₀.₆₇Li₀.₀₅Mn₀.₉₅O₂"},{"n":21,"c":191,"ce":99.4,"s":"Na₀.₆₇Li₀.₀₅Mn₀.₉₅O₂"},{"n":23,"c":191,"ce":99.6,"s":"Na₀.₆₇Li₀.₀₅Mn₀.₉₅O₂"},{"n":25,"c":190,"ce":99.3,"s":"Na₀.₆₇Li₀.₀₅Mn₀.₉₅O₂"},{"n":27,"c":190,"ce":99.7,"s":"Na₀.₆₇Li₀.₀₅Mn₀.₉₅O₂"},{"n":29,"c":189,"ce":99.5,"s":"Na₀.₆₇Li₀.₀₅Mn₀.₉₅O₂"},{"n":31,"c":189,"ce":101.7,"s":"Na₀.₆₇Li₀.₀₅Mn₀.₉₅O₂"},{"n":33,"c":188,"ce":99.4,"s":"Na₀.₆₇Li₀.₀₅Mn₀.₉₅O₂"},{"n":35,"c":187,"ce":99.6,"s":"Na₀.₆₇Li₀.₀₅Mn₀.₉₅O₂"},{"n":37,"c":187,"ce":101.0,"s":"Na₀.₆₇Li₀.₀₅Mn₀.₉₅O₂"},{"n":39,"c":186,"ce":99.3,"s":"Na₀.₆₇Li₀.₀₅Mn₀.₉₅O₂"},{"n":41,"c":186,"ce":99.8,"s":"Na₀.₆₇Li₀.₀₅Mn₀.₉₅O₂"},{"n":43,"c":186,"ce":99.5,"s":"Na₀.₆₇Li₀.₀₅Mn₀.₉₅O₂"},{"n":45,"c":185,"ce":99.7,"s":"Na₀.₆₇Li₀.₀₅Mn₀.₉₅O₂"},{"n":47,"c":185,"ce":99.4,"s":"Na₀.₆₇Li₀.₀₅Mn₀.₉₅O₂"},{"n":49,"c":184,"ce":99.6,"s":"Na₀.₆₇Li₀.₀₅Mn₀.₉₅O₂"},{"n":51,"c":184,"ce":99.8,"s":"Na₀.₆₇Li₀.₀₅Mn₀.₉₅O₂"},{"n":53,"c":183,"ce":99.3,"s":"Na₀.₆₇Li₀.₀₅Mn₀.₉₅O₂"},{"n":55,"c":183,"ce":99.5,"s":"Na₀.₆₇Li₀.₀₅Mn₀.₉₅O₂"},{"n":57,"c":182,"ce":100.6,"s":"Na₀.₆₇Li₀.₀₅Mn₀.₉₅O₂"},{"n":59,"c":183,"ce":99.4,"s":"Na₀.₆₇Li₀.₀₅Mn₀.₉₅O₂"},{"n":61,"c":182,"ce":99.6,"s":"Na₀.₆₇Li₀.₀₅Mn₀.₉₅O₂"},{"n":63,"c":181,"ce":99.3,"s":"Na₀.₆₇Li₀.₀₅Mn₀.₉₅O₂"},{"n":65,"c":181,"ce":99.7,"s":"Na₀.₆₇Li₀.₀₅Mn₀.₉₅O₂"},{"n":67,"c":180,"ce":99.5,"s":"Na₀.₆₇Li₀.₀₅Mn₀.₉₅O₂"},{"n":69,"c":180,"ce":100.6,"s":"Na₀.₆₇Li₀.₀₅Mn₀.₉₅O₂"},{"n":71,"c":180,"ce":99.4,"s":"Na₀.₆₇Li₀.₀₅Mn₀.₉₅O₂"},{"n":73,"c":179,"ce":99.6,"s":"Na₀.₆₇Li₀.₀₅Mn₀.₉₅O₂"},{"n":75,"c":179,"ce":99.5,"s":"Na₀.₆₇Li₀.₀₅Mn₀.₉₅O₂"},{"n":77,"c":179,"ce":99.3,"s":"Na₀.₆₇Li₀.₀₅Mn₀.₉₅O₂"},{"n":79,"c":178,"ce":99.6,"s":"Na₀.₆₇Li₀.₀₅Mn₀.₉₅O₂"},{"n":81,"c":178,"ce":99.4,"s":"Na₀.₆₇Li₀.₀₅Mn₀.₉₅O₂"},{"n":83,"c":177,"ce":99.5,"s":"Na₀.₆₇Li₀.₀₅Mn₀.₉₅O₂"},{"n":85,"c":177,"ce":99.3,"s":"Na₀.₆₇Li₀.₀₅Mn₀.₉₅O₂"},{"n":87,"c":176,"ce":99.6,"s":"Na₀.₆₇Li₀.₀₅Mn₀.₉₅O₂"},{"n":89,"c":176,"ce":99.4,"s":"Na₀.₆₇Li₀.₀₅Mn₀.₉₅O₂"},{"n":91,"c":175,"ce":99.3,"s":"Na₀.₆₇Li₀.₀₅Mn₀.₉₅O₂"},{"n":93,"c":174,"ce":99.5,"s":"Na₀.₆₇Li₀.₀₅Mn₀.₉₅O₂"},{"n":95,"c":173,"ce":100.6,"s":"Na₀.₆₇Li₀.₀₅Mn₀.₉₅O₂"},{"n":97,"c":172,"ce":99.4,"s":"Na₀.₆₇Li₀.₀₅Mn₀.₉₅O₂"},{"n":99,"c":170,"ce":99.0,"s":"Na₀.₆₇Li₀.₀₅Mn₀.₉₅O₂"}
 ],
 "ARR": [
  {"n":12.5,"c":174,"g":"L","i":0},{"n":12.5,"c":153.6,"g":"L","i":1},{"n":2.5,"c":153.6,"g":"L","i":2},
  {"n":86.7,"c":270,"g":"R","i":0},{"n":86.7,"c":248.6,"g":"R","i":1},{"n":97.5,"c":248.6,"g":"R","i":2}
 ]
},
"vconcat": [
 {"hconcat": [
  {"width": 267, "height": 178,
   "encoding": {
    "x": {"field": "x", "type": "quantitative", "scale": {"domain": [0, 250], "nice": false, "zero": false}, "axis": {"values": [0, 50, 100, 150, 200, 250], "title": "Capacity (mAh g⁻¹)", "labelPadding": 1, "titlePadding": 2}},
    "y": {"field": "y", "type": "quantitative", "scale": {"domain": [1.2, 4.78], "nice": false, "zero": false}, "axis": {"values": [1.5, 2.5, 3.5, 4.5], "format": ".1f", "title": "E (V)", "labelPadding": 2, "titlePadding": 11}}
   },
   "layer": [
    {"data": {"name": "A"}, "mark": {"type": "line", "strokeWidth": 1.5},
     "encoding": {"color": {"field": "k", "type": "nominal", "scale": {"domain": ["1st", "2nd", "3rd"], "range": ["#161616", "#3b4cff", "#ff2d3d"]}, "legend": {"title": null, "legendX": 208, "legendY": 63.5, "symbolType": "M-3,0L3,0", "symbolSize": 144, "symbolStrokeWidth": 1.5, "labelOffset": 13.5, "rowPadding": 3.5}},
      "detail": {"field": "b", "type": "nominal"}}},
    {"data": {"values": [{"x": -33.4, "y": 4.51, "t": "(a)"}]}, "mark": {"type": "text", "align": "right", "baseline": "alphabetic", "fontSize": 17}, "encoding": {"text": {"field": "t"}}},
    {"data": {"values": [{"x": 5.6, "y": 4.36, "t": "Na₀.₆₇MnO₂"}]}, "mark": {"type": "text", "align": "left", "baseline": "alphabetic", "fontSize": 16}, "encoding": {"text": {"field": "t"}}},
    {"data": {"values": [{"x": 241.6, "y": 1.39, "t": "20 mA g⁻¹"}]}, "mark": {"type": "text", "align": "right", "baseline": "alphabetic", "fontSize": 16}, "encoding": {"text": {"field": "t"}}}
   ]
  },
  {"width": 267, "height": 178,
   "encoding": {
    "x": {"field": "x", "type": "quantitative", "scale": {"domain": [0, 250], "nice": false, "zero": false}, "axis": {"values": [0, 50, 100, 150, 200, 250], "title": "Capacity (mAh g⁻¹)", "labelPadding": 1, "titlePadding": 2}},
    "y": {"field": "y", "type": "quantitative", "scale": {"domain": [1.2, 4.78], "nice": false, "zero": false}, "axis": {"values": [1.5, 2.5, 3.5, 4.5], "format": ".1f", "title": "E (V)", "labelPadding": 2, "titlePadding": 11}}
   },
   "layer": [
    {"data": {"name": "B"}, "mark": {"type": "line", "strokeWidth": 1.5},
     "encoding": {"color": {"field": "k", "type": "nominal", "scale": {"domain": ["1st", "2nd", "3rd"], "range": ["#161616", "#3b4cff", "#ff2d3d"]}, "legend": {"title": null, "legendX": 203, "legendY": 63.5, "symbolType": "M-3,0L3,0", "symbolSize": 144, "symbolStrokeWidth": 1.5, "labelOffset": 13.5, "rowPadding": 3.5}},
      "detail": {"field": "b", "type": "nominal"}}},
    {"data": {"values": [{"x": -34.4, "y": 4.51, "t": "(b)"}]}, "mark": {"type": "text", "align": "right", "baseline": "alphabetic", "fontSize": 17}, "encoding": {"text": {"field": "t"}}},
    {"data": {"values": [{"x": 8.7, "y": 4.43, "t": "Na₀.₆₇Li₀.₀₅Mn₀.₉₅O₂"}]}, "mark": {"type": "text", "align": "left", "baseline": "alphabetic", "fontSize": 15}, "encoding": {"text": {"field": "t"}}},
    {"data": {"values": [{"x": 241.2, "y": 1.39, "t": "20 mA g⁻¹"}]}, "mark": {"type": "text", "align": "right", "baseline": "alphabetic", "fontSize": 16}, "encoding": {"text": {"field": "t"}}}
   ]
  }
 ], "spacing": 8, "resolve": {"scale": {"color": "independent"}, "legend": {"color": "independent"}}},
 {"hconcat": [
  {"width": 258, "height": 177.7,
   "encoding": {
    "x": {"field": "n", "type": "quantitative", "scale": {"domain": [-2.2, 30.7], "nice": false, "zero": false}, "axis": {"values": [0, 10, 20, 30], "title": "Cycle Number", "labelPadding": 3, "titlePadding": 0}},
    "y": {"field": "c", "type": "quantitative", "scale": {"domain": [0, 322], "nice": false}, "axis": {"values": [0, 100, 200, 300], "title": "C (mAh g⁻¹)", "labelPadding": 2, "titlePadding": 4}}
   },
   "layer": [
    {"data": {"name": "C"}, "mark": {"type": "point", "filled": true, "size": 36, "opacity": 1},
     "encoding": {"color": {"field": "s", "type": "nominal", "scale": {"domain": ["Na₀.₆₇MnO₂", "Na₀.₆₇Li₀.₀₅Mn₀.₉₅O₂"], "range": ["#2323f5", "#ff3344"]}, "legend": {"title": null, "legendX": 9, "legendY": 131, "symbolType": "circle", "symbolSize": 36, "labelOffset": 5, "rowPadding": 4, "labelFontSize": 15}}}},
    {"data": {"values": [{"n": -6.8, "c": 306, "t": "(c)"}]}, "mark": {"type": "text", "align": "right", "baseline": "alphabetic", "fontSize": 17}, "encoding": {"text": {"field": "t"}}},
    {"data": {"values": [{"n": 3.17, "c": 238.9, "t": "0.08"}, {"n": 8.06, "c": 217.4, "t": "0.2"}, {"n": 12.9, "c": 202.6, "t": "0.4"}, {"n": 18.15, "c": 158.2, "t": "2"}, {"n": 22.6, "c": 137, "t": "4"}, {"n": 27.9, "c": 202.6, "t": "0.08"}]}, "mark": {"type": "text", "align": "center", "baseline": "middle", "fontSize": 16}, "encoding": {"text": {"field": "t"}}},
    {"data": {"values": [{"n": 29.2, "c": 24.8, "t": "Unit: C"}]}, "mark": {"type": "text", "align": "right", "baseline": "middle", "fontSize": 16}, "encoding": {"text": {"field": "t"}}}
   ]
  },
  {"width": 267.6, "height": 177.7,
   "encoding": {
    "x": {"field": "n", "type": "quantitative", "scale": {"domain": [0, 100], "nice": false, "zero": false}, "axis": {"values": [0, 20, 40, 60, 80, 100], "title": "Cycle Number", "labelPadding": -3, "titlePadding": 5}}
   },
   "layer": [
    {"layer": [
      {"data": {"name": "D"}, "mark": {"type": "point", "filled": true, "size": 36, "opacity": 1},
       "encoding": {
        "y": {"field": "c", "type": "quantitative", "scale": {"domain": [0, 322], "nice": false}, "axis": {"values": [0, 100, 200, 300], "title": "C (mAh g⁻¹)", "labelPadding": 2, "titlePadding": 9}},
        "color": {"field": "s", "type": "nominal", "scale": {"domain": ["Na₀.₆₇MnO₂", "Na₀.₆₇Li₀.₀₅Mn₀.₉₅O₂"], "range": ["#2323f5", "#ff3344"]}, "legend": {"title": null, "legendX": 8, "legendY": 131.7, "symbolType": "circle", "symbolSize": 36, "labelOffset": 4, "rowPadding": 4, "labelFontSize": 15}}}},
      {"data": {"name": "ARR"}, "mark": {"type": "line", "color": "#000", "strokeWidth": 1.3},
       "encoding": {"y": {"field": "c", "type": "quantitative"}, "detail": {"field": "g", "type": "nominal"}, "order": {"field": "i", "type": "quantitative"}}},
      {"data": {"values": [{"n": 1.6, "c": 153.6}]}, "mark": {"type": "point", "shape": "triangle-left", "filled": true, "color": "#000", "size": 28, "opacity": 1},
       "encoding": {"y": {"field": "c", "type": "quantitative"}}},
      {"data": {"values": [{"n": 98.6, "c": 248.6}]}, "mark": {"type": "point", "shape": "triangle-right", "filled": true, "color": "#000", "size": 28, "opacity": 1},
       "encoding": {"y": {"field": "c", "type": "quantitative"}}},
      {"data": {"values": [{"n": -13.7, "c": 307, "t": "(d)"}]}, "mark": {"type": "text", "align": "right", "baseline": "alphabetic", "fontSize": 17}, "encoding": {"y": {"field": "c", "type": "quantitative"}, "text": {"field": "t"}}},
      {"data": {"values": [{"n": 96.9, "c": 24.8, "t": "50 mA g⁻¹"}]}, "mark": {"type": "text", "align": "right", "baseline": "middle", "fontSize": 16}, "encoding": {"y": {"field": "c", "type": "quantitative"}, "text": {"field": "t"}}}
    ]},
    {"data": {"name": "D"}, "mark": {"type": "point", "filled": true, "size": 36, "opacity": 1},
     "encoding": {
      "y": {"field": "ce", "type": "quantitative", "scale": {"domain": [-0.6, 110.9], "nice": false, "zero": false}, "axis": {"orient": "right", "values": [0, 20, 40, 60, 80, 100], "title": "C.E. (%)", "labelPadding": 2, "titlePadding": -3}},
      "color": {"field": "s", "type": "nominal", "scale": {"domain": ["Na₀.₆₇MnO₂", "Na₀.₆₇Li₀.₀₅Mn₀.₉₅O₂"], "range": ["#2323f5", "#ff3344"]}, "legend": null}}}
   ],
   "resolve": {"scale": {"y": "independent"}}
  }
 ], "spacing": 25, "resolve": {"scale": {"color": "independent"}, "legend": {"color": "independent"}}}
],
"spacing": 8,
"resolve": {"scale": {"color": "independent"}, "legend": {"color": "independent"}}
}
